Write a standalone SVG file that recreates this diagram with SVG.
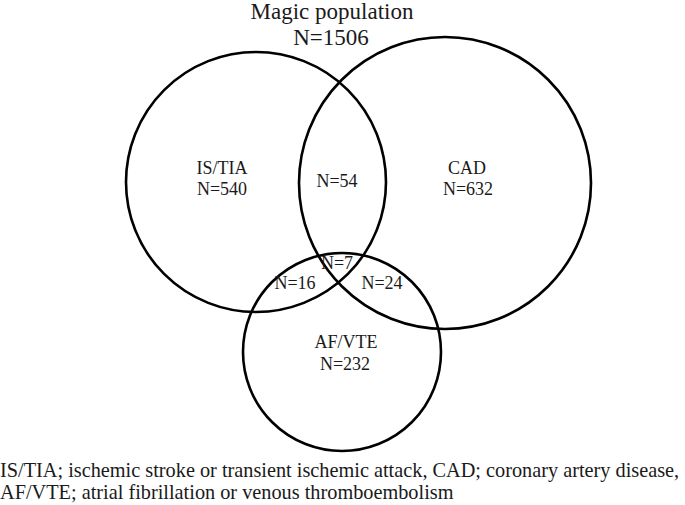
<svg xmlns="http://www.w3.org/2000/svg" width="685" height="505" viewBox="0 0 685 505">
<style>
.set{fill:none;stroke:#000;stroke-width:2.6}
.t{fill:#1a1a1a}
.lbl{font-size:18px;text-anchor:middle}
.title{font-size:23px;text-anchor:middle}
.foot{font-size:20.3px}
</style>
<rect width="685" height="505" fill="#fff"/>
<g font-family="'Liberation Serif', 'Times New Roman', 'DejaVu Serif', serif">
<g id="title">
<text class="t title" x="332" y="19">Magic population</text>
<text class="t title" x="331" y="45">N=1506</text>
</g>
<g id="connectors"></g>
<g id="is-tia">
<circle class="set" cx="256" cy="182" r="130"/>
<text class="t lbl" x="222" y="174">IS/TIA</text>
<text class="t lbl" x="222" y="195">N=540</text>
</g>
<g id="cad">
<circle class="set" cx="445" cy="183" r="146"/>
<text class="t lbl" x="467" y="174">CAD</text>
<text class="t lbl" x="468" y="195">N=632</text>
</g>
<g id="af-vte">
<circle class="set" cx="342" cy="352" r="99"/>
<text class="t lbl" x="346" y="348">AF/VTE</text>
<text class="t lbl" x="345" y="370">N=232</text>
</g>
<g id="overlaps">
<text class="t lbl" x="337" y="187">N=54</text>
<text class="t lbl" x="337" y="269">N=7</text>
<text class="t lbl" x="295" y="289">N=16</text>
<text class="t lbl" x="382" y="289">N=24</text>
</g>
<g id="footnote">
<text class="t foot" x="0" y="477">IS/TIA; ischemic stroke or transient ischemic attack, CAD; coronary artery disease,</text>
<text class="t foot" x="0" y="499">AF/VTE; atrial fibrillation or venous thromboembolism</text>
</g>
</g>
</svg>
